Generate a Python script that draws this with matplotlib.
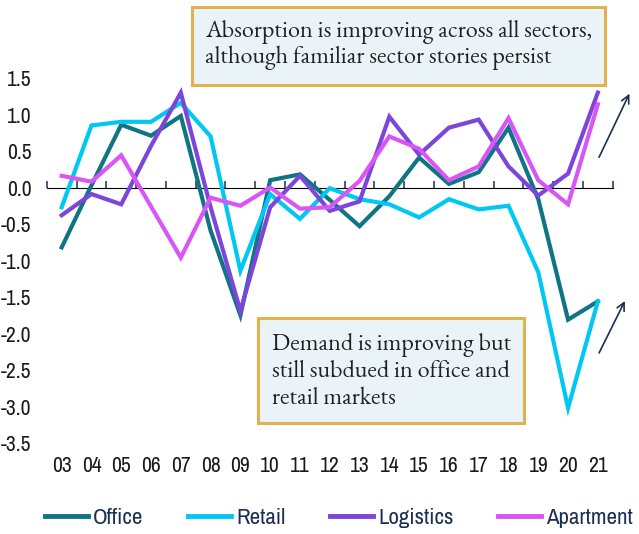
import matplotlib
matplotlib.use("Agg")
import matplotlib.pyplot as plt
from matplotlib.patches import Rectangle
from matplotlib.ticker import FixedLocator, NullFormatter

years = ["03", "04", "05", "06", "07", "08", "09", "10", "11", "12",
         "13", "14", "15", "16", "17", "18", "19", "20", "21"]
office = [-0.82, 0.03, 0.86, 0.71, 0.98, -0.59, -1.75, 0.10, 0.18, -0.17,
          -0.53, -0.12, 0.41, 0.05, 0.21, 0.82, -0.16, -1.81, -1.56]
retail = [-0.27, 0.85, 0.90, 0.90, 1.16, 0.70, -1.14, -0.09, -0.43, -0.01,
          -0.16, -0.23, -0.41, -0.16, -0.30, -0.25, -1.16, -3.02, -1.56]
logistics = [-0.38, -0.09, -0.23, 0.57, 1.30, -0.27, -1.69, -0.27, 0.16, -0.32,
             -0.19, 0.97, 0.45, 0.82, 0.93, 0.29, -0.11, 0.19, 1.30]
apartment = [0.16, 0.08, 0.44, -0.26, -0.96, -0.14, -0.25, 0.00, -0.29, -0.27,
             0.09, 0.70, 0.53, 0.10, 0.29, 0.95, 0.10, -0.23, 1.14]
yticks = [1.5, 1.0, 0.5, 0.0, -0.5, -1.0, -1.5, -2.0, -2.5, -3.0, -3.5]

series = [("Office", office, "#0f7584"),
          ("Retail", retail, "#00c8f2"),
          ("Logistics", logistics, "#7b46d9"),
          ("Apartment", apartment, "#d955f6")]

sans = ["Liberation Sans Narrow", "Arial Narrow", "Archivo Narrow", "Liberation Sans", "DejaVu Sans"]
serif = ["EB Garamond", "Cormorant Garamond", "Liberation Serif", "DejaVu Serif"]
navy = "#1b2f52"
W, H = 639, 534

fig = plt.figure(figsize=(6.39, 5.34), dpi=100)
ax = fig.add_axes([0.0732, 0.1704, 0.9589 - 0.0732, 0.8539 - 0.1704])
x = list(range(len(years)))
for name, vals, col in series:
    ax.plot(x, vals, color=col, lw=3.0, label=name, solid_joinstyle="miter")

ax.set_xlim(-0.5, len(years) - 0.5)
ax.set_ylim(-3.5, 1.5)
ax.set_yticks(yticks)
ax.set_yticklabels([f"{v:.1f}" for v in yticks], family=sans, fontsize=15.5, color="#1a1a1a")
ax.set_xticks(x)
ax.set_xticklabels(years, family=sans, fontsize=15.5, color="#1a1a1a")
ax.tick_params(axis="both", length=0)
ax.tick_params(axis="y", pad=11)
ax.tick_params(axis="x", pad=9)
for s in ax.spines.values():
    s.set_visible(False)

# zero axis with category-boundary ticks
sec = ax.secondary_xaxis(3.5 / 5.0)
sec.spines["bottom"].set_color(navy)
sec.spines["bottom"].set_linewidth(1.3)
sec.xaxis.set_major_locator(FixedLocator([i - 0.5 for i in range(len(years) + 1)]))
sec.xaxis.set_major_formatter(NullFormatter())
sec.tick_params(axis="x", direction="out", length=5, width=1.1, color=navy)

# annotation boxes
def box(x0, y0, x1, y1):
    fig.patches.append(Rectangle((x0 / W, 1 - y1 / H), (x1 - x0) / W, (y1 - y0) / H,
                                 transform=fig.transFigure, fc="#eaf3f8", ec="#e2b24f",
                                 lw=2.2, zorder=5))

box(192, 7, 605, 85)
fig.text(205 / W, 1 - 45 / H,
         "Absorption is improving across all sectors,\nalthough familiar sector stories persist",
         family=serif, fontsize=17.4, color="#222222", va="center", ha="left",
         linespacing=1.08, zorder=6)
box(258, 318, 524, 423)
fig.text(272 / W, 1 - 372 / H,
         "Demand is improving but\nstill subdued in office and\nretail markets",
         family=serif, fontsize=17.4, color="#222222", va="center", ha="left",
         linespacing=1.16, zorder=6)

# arrows
arr = dict(arrowstyle="->", color=navy, lw=1.2, mutation_scale=14)
ax.annotate("", xy=(19.1, 1.32), xytext=(18.0, 0.38), arrowprops=arr, annotation_clip=False)
ax.annotate("", xy=(18.95, -1.52), xytext=(18.0, -2.30), arrowprops=arr, annotation_clip=False)

leg = fig.legend(loc="center", bbox_to_anchor=(339 / W, 1 - 518 / H), ncol=4, frameon=False,
                 prop={"family": sans, "size": 16.5}, handlelength=1.87,
                 handletextpad=0.22, columnspacing=1.95, borderpad=0, borderaxespad=0)
for t in leg.get_texts():
    t.set_color(navy)
for h in leg.get_lines():
    h.set_linewidth(3.5)

fig.savefig("out.png", dpi=100)
